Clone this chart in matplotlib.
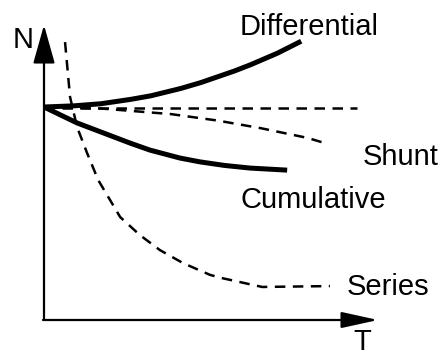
import numpy as np
import matplotlib.pyplot as plt

plt.rcParams['font.family'] = ['Liberation Sans', 'DejaVu Sans']

# speed-torque characteristics of dc motors (arbitrary units)
diff_T = [0, 0.9, 1.7, 2.6, 3.2, 4.1, 4.7, 5.7, 6.2, 7.0, 7.7]
diff_N = [7.22, 7.26, 7.33, 7.48, 7.60, 7.85, 8.05, 8.44, 8.66, 9.05, 9.45]

const_T = [0, 9.37]
const_N = [7.19, 7.19]

shunt_T = [0, 1.7, 3.8, 5.2, 6.5, 7.9, 8.4]
shunt_N = [7.22, 7.17, 6.98, 6.76, 6.50, 6.17, 6.00]

cum_T = [0, 0.99, 2.57, 3.17, 4.07, 4.67, 5.4, 6.17, 7.28]
cum_N = [7.22, 6.68, 6.00, 5.76, 5.49, 5.36, 5.24, 5.15, 5.08]

series_T = [0.63, 0.78, 0.99, 1.29, 1.62, 2.28, 2.87, 3.47, 4.16, 4.97, 5.33, 6.53, 8.56]
series_N = [9.42, 7.56, 6.54, 5.66, 4.75, 3.49, 2.88, 2.37, 1.93, 1.53, 1.42, 1.12, 1.15]

fig = plt.figure(figsize=(4.47, 3.56), dpi=100)
ax = fig.add_axes([44 / 447, 36 / 356, 334 / 447, 295 / 356])
ax.set_xlim(0, 10)
ax.set_ylim(0, 10)
ax.axis('off')

dash = (0, (4.2, 3.0))
ax.plot(diff_T, diff_N, color='black', lw=3.6, solid_capstyle='butt')
ax.plot(cum_T, cum_N, color='black', lw=3.6, solid_capstyle='butt')
ax.plot(const_T, const_N, color='black', lw=1.8, linestyle=dash)
ax.plot(shunt_T, shunt_N, color='black', lw=1.8, linestyle=dash)
ax.plot(series_T, series_N, color='black', lw=1.8, linestyle=dash)

# axes with arrow heads
ax.annotate('', xy=(0, 10), xytext=(0, 0), annotation_clip=False,
            arrowprops=dict(arrowstyle='-|>,head_length=1.6,head_width=0.45',
                            mutation_scale=15, lw=1.6, color='black',
                            shrinkA=0, shrinkB=0))
ax.annotate('', xy=(10, 0), xytext=(-0.03, 0), annotation_clip=False,
            arrowprops=dict(arrowstyle='-|>,head_length=1.5,head_width=0.33',
                            mutation_scale=15, lw=1.6, color='black',
                            shrinkA=0, shrinkB=0))

fs = 21
ax.text(-0.93, 9.22, 'N', fontsize=fs, va='baseline', clip_on=False)
ax.text(9.25, -1.0, 'T', fontsize=fs, va='baseline', clip_on=False)
ax.text(5.87, 9.66, 'Differential', fontsize=fs, va='baseline', clip_on=False)
ax.text(9.55, 5.25, 'Shunt', fontsize=fs, va='baseline', clip_on=False)
ax.text(5.87, 3.80, 'Cumulative', fontsize=fs, va='baseline', clip_on=False)
ax.text(9.07, 0.85, 'Series', fontsize=fs, va='baseline', clip_on=False)

fig.savefig('out.png', dpi=100)
